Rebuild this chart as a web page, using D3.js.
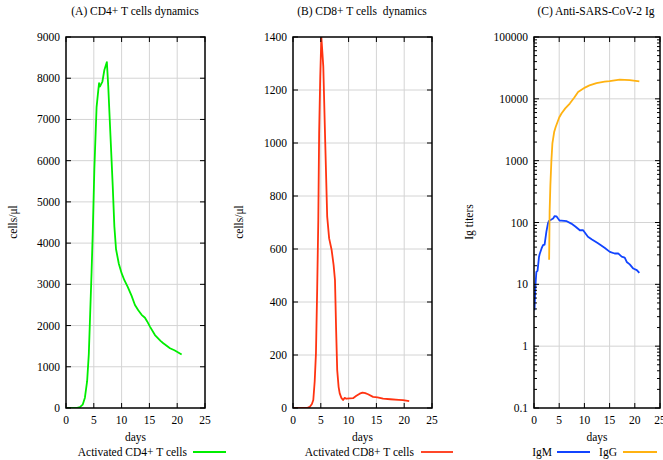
<!DOCTYPE html>
<html><head><meta charset="utf-8">
<script src="https://cdn.jsdelivr.net/npm/d3@7"></script>
<style>
body{margin:0;background:#fff;}
svg{display:block;}
text{font-family:"Liberation Serif","Times New Roman",serif;fill:#000;}
</style></head>
<body><svg id="chart" width="663" height="460"></svg>
<script>
// ---- data ----
const cd4Days = [0,1,2,2.5,3.0,3.4,3.8,4.1,4.3,4.6,4.8,5.1,5.5,5.8,5.95,6.1,6.3,6.55,6.9,7.35,7.6,8.0,8.4,8.7,9.0,9.5,10.0,10.5,11.1,11.8,12.4,13.0,13.6,14.2,14.6,15.1,16.0,17.0,17.5,18.7,19.5,20.8];
const cd4Cells = [0,0,5,20,80,250,650,1300,2100,3300,4200,5800,7300,7700,7880,7800,7850,7920,8200,8390,7800,6600,5400,4400,3850,3500,3270,3100,2940,2720,2500,2370,2260,2190,2100,1975,1770,1630,1570,1450,1400,1300];

const cd8Days = [0,2.5,3.0,3.4,3.65,3.9,4.13,4.35,4.55,4.7,4.9,5.1,5.45,5.8,6.15,6.5,6.95,7.3,7.55,7.75,7.95,8.2,8.4,8.7,9.0,9.3,9.6,10.2,10.8,11.4,12.0,12.5,13.0,13.5,14.4,15.2,16.2,17.5,19.0,19.8,20.9];
const cd8Cells = [0,0,4,15,30,100,207,450,709,1037,1250,1400,1288,1000,722,640,596,540,483,300,143,80,55,38,30,38,35,36,37,46,54,58,56,52,42,40,35,33,31,30,26];

const igmDays = [0.1,0.3,0.47,0.7,1.0,1.13,1.5,1.79,2.1,2.46,2.78,3.0,3.46,3.8,4.1,4.45,4.77,5.1,5.45,6.5,7.4,8.2,9.1,9.75,10.7,11.5,12.7,14.0,15.05,16.0,16.7,17.4,18.0,18.4,19.0,19.7,20.4,20.9];
const igmTiters = [3.8,10,15.9,16.5,28,31,38,43,44,71,98,107,112,116,127,126,116,107,107,105,96,86,75,75,59,53,46,39,33.5,31.5,31.6,28,27,23,21,18,17,15.3];

const iggDays = [3.0,3.1,3.25,3.45,3.65,4.0,4.3,5.0,5.45,6.2,7.1,8.0,8.75,10.1,11.0,12.4,14.0,15.0,17.0,19.0,20.9];
const iggTiters = [25,150,400,1000,1900,2900,3500,5000,5800,7000,8400,10500,12900,15200,16500,18000,19000,19400,20400,20000,19100];

const xTicks = [0,5,10,15,20,25];
const cd4Ticks = [0,1000,2000,3000,4000,5000,6000,7000,8000,9000];
const cd8Ticks = [0,200,400,600,800,1000,1200,1400];
const igTicks = [0.1,1,10,100,1000,10000,100000];

const svg = d3.select("#chart");
const gridColor = "#d4d4d4";

function panel(opt){
  const g = svg.append("g");
  const x = d3.scaleLinear().domain([0,25]).range([opt.left, opt.right]);
  const y = (opt.log ? d3.scaleLog() : d3.scaleLinear()).domain(opt.ydomain).range([408, 37]);
  const top = 37, bottom = 408;
  // grid
  g.append("g").selectAll("line.gx").data(xTicks.slice(1,-1)).join("line")
    .attr("x1",d=>x(d)).attr("x2",d=>x(d)).attr("y1",top).attr("y2",bottom)
    .attr("stroke",gridColor).attr("stroke-width",1);
  g.append("g").selectAll("line.gy").data(opt.yticks.slice(1,-1)).join("line")
    .attr("x1",opt.left).attr("x2",opt.right).attr("y1",d=>y(d)).attr("y2",d=>y(d))
    .attr("stroke",gridColor).attr("stroke-width",1);
  // clip
  const cid = "clip"+opt.id;
  svg.append("clipPath").attr("id",cid).append("rect")
    .attr("x",opt.left).attr("y",top).attr("width",opt.right-opt.left).attr("height",bottom-top);
  // series
  opt.series.forEach(s=>{
    const line = d3.line().x((d,i)=>x(s.xs[i])).y((d,i)=>y(s.ys[i]));
    g.append("path").datum(s.ys).attr("d",line).attr("fill","none")
      .attr("stroke",s.color).attr("stroke-width",1.8).attr("stroke-linejoin","round")
      .attr("clip-path","url(#"+cid+")");
  });
  // axes with inward ticks
  const tl = 5;
  const ax = g.append("g").attr("stroke","#000").attr("stroke-width",1);
  // x ticks bottom and top
  xTicks.forEach(t=>{
    ax.append("line").attr("x1",x(t)).attr("x2",x(t)).attr("y1",bottom).attr("y2",bottom-tl);
    ax.append("line").attr("x1",x(t)).attr("x2",x(t)).attr("y1",top).attr("y2",top+tl);
  });
  opt.yticks.forEach(t=>{
    ax.append("line").attr("x1",opt.left).attr("x2",opt.left+tl).attr("y1",y(t)).attr("y2",y(t));
    ax.append("line").attr("x1",opt.right).attr("x2",opt.right-tl).attr("y1",y(t)).attr("y2",y(t));
  });
  if(opt.log){
    const minor=[];
    for(let e=-1;e<5;e++) for(let m=2;m<10;m++) minor.push(m*Math.pow(10,e));
    minor.forEach(t=>{
      ax.append("line").attr("x1",opt.left).attr("x2",opt.left+3).attr("y1",y(t)).attr("y2",y(t));
      ax.append("line").attr("x1",opt.right).attr("x2",opt.right-3).attr("y1",y(t)).attr("y2",y(t));
    });
  }
  g.append("rect").attr("x",opt.left).attr("y",top).attr("width",opt.right-opt.left).attr("height",bottom-top)
    .attr("fill","none").attr("stroke","#000").attr("stroke-width",1.5);
  // labels
  g.append("g").selectAll("text").data(xTicks).join("text")
    .attr("x",d=>x(d)).attr("y",424).attr("text-anchor","middle").attr("font-size",11.5).text(d=>d);
  g.append("g").selectAll("text").data(opt.yticks).join("text")
    .attr("x",opt.left-6).attr("y",d=>y(d)+4).attr("text-anchor","end").attr("font-size",11.5)
    .text(d=>opt.log ? (d<1? "0.1" : String(d)) : d);
  g.append("text").attr("x",(opt.left+opt.right)/2).attr("y",441).attr("text-anchor","middle")
    .attr("font-size",11.5).text("days");
  g.append("text").attr("transform",`translate(${opt.ylabX},222) rotate(-90)`)
    .attr("text-anchor","middle").attr("font-size",11.5).text(opt.ylabel);
  g.append("text").attr("x",opt.titleX).attr("y",15).attr("text-anchor","middle")
    .attr("font-size",11.5).attr("xml:space","preserve").style("white-space","pre").text(opt.title);
  // legend
  opt.legend.forEach(l=>{
    g.append("text").attr("x",l.tx).attr("y",456).attr("text-anchor","end").attr("font-size",11.5).text(l.label);
    g.append("line").attr("x1",l.x1).attr("x2",l.x2).attr("y1",452).attr("y2",452)
      .attr("stroke",l.color).attr("stroke-width",1.8);
  });
}

const green="#00ee00", red="#ff3311", blue="#1144ff", orange="#ffb211";

panel({id:"A",left:66,right:205,ydomain:[0,9000],yticks:cd4Ticks,ylabel:"cells/μl",ylabX:17,
  title:"(A) CD4+ T cells dynamics",titleX:135,
  series:[{xs:cd4Days,ys:cd4Cells,color:green}],
  legend:[{label:"Activated CD4+ T cells",tx:187,x1:193,x2:226,color:green}]});
panel({id:"B",left:293,right:432,ydomain:[0,1400],yticks:cd8Ticks,ylabel:"cells/μl",ylabX:243,
  title:"(B) CD8+ T cells  dynamics",titleX:362,
  series:[{xs:cd8Days,ys:cd8Cells,color:red}],
  legend:[{label:"Activated CD8+ T cells",tx:414,x1:421,x2:453,color:red}]});
panel({id:"C",left:534,right:660,ydomain:[0.1,100000],yticks:igTicks,ylabel:"Ig titers",ylabX:473,log:true,
  title:"(C) Anti-SARS-CoV-2 Ig",titleX:596,
  series:[{xs:igmDays,ys:igmTiters,color:blue},{xs:iggDays,ys:iggTiters,color:orange}],
  legend:[{label:"IgM",tx:552,x1:557,x2:590,color:blue},{label:"IgG",tx:617,x1:623,x2:657,color:orange}]});
</script></body></html>
